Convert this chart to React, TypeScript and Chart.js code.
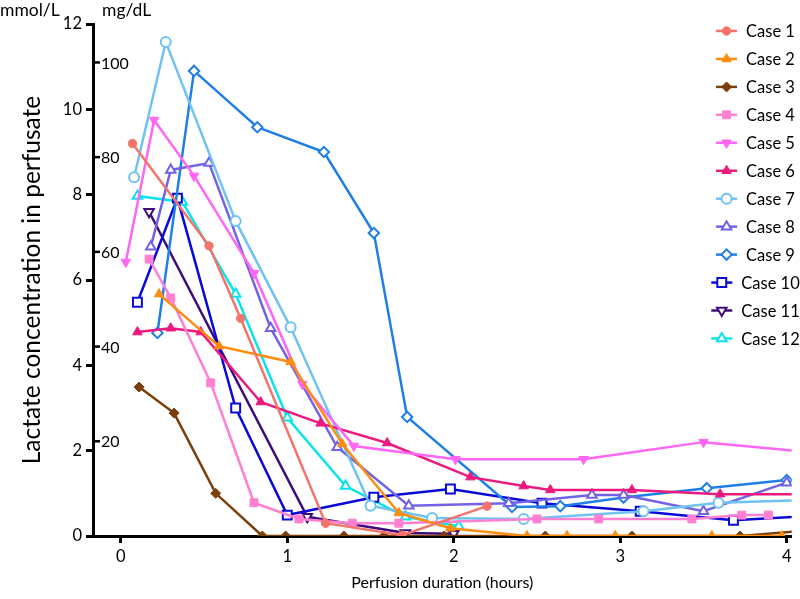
import React, { useEffect, useRef } from "react";
import { Chart, registerables } from "chart.js";
import { drawPoint } from "chart.js/helpers";

Chart.register(...registerables);

const FONT = "Lato, 'Open Sans', sans-serif";

const caseNames = ["Case 1", "Case 2", "Case 3", "Case 4", "Case 5", "Case 6", "Case 7", "Case 8", "Case 9", "Case 10", "Case 11", "Case 12"];

const case1Hours = [0.07, 0.53, 0.72, 1.23, 1.69, 2.2];
const case1Lactate = [9.2, 6.8, 5.1, 0.3, 0.02, 0.7];

const case2Hours = [0.23, 0.59, 1.02, 1.33, 1.67, 1.98, 2.44, 2.68, 2.97, 3.55, 3.97];
const case2Lactate = [5.67, 4.45, 4.08, 2.16, 0.54, 0.18, 0, 0, 0, 0, 0];

const case3Hours = [0.11, 0.32, 0.57, 0.85, 0.99, 1.34, 1.58, 1.94, 2.55, 3.07, 3.72, 4.1];
const case3Lactate = [3.49, 2.88, 1.0, 0, 0, 0, 0, 0, 0, 0, 0, 0.12];

const case4Hours = [0.17, 0.3, 0.54, 0.8, 1.07, 1.39, 1.67, 2.5, 2.87, 3.43, 3.73, 3.89];
const case4Lactate = [6.49, 5.58, 3.59, 0.78, 0.4, 0.3, 0.3, 0.4, 0.4, 0.4, 0.49, 0.49];

const case5Hours = [0.03, 0.2, 0.44, 0.8, 1.09, 1.4, 2.01, 2.78, 3.5, 4.1];
const case5Lactate = [6.42, 9.75, 8.44, 6.16, 3.56, 2.11, 1.8, 1.8, 2.2, 1.98];

const case6Hours = [0.1, 0.3, 0.48, 0.84, 1.2, 1.6, 2.1, 2.42, 2.58, 3.07, 3.6, 4.1];
const case6Lactate = [4.78, 4.87, 4.78, 3.14, 2.64, 2.18, 1.38, 1.17, 1.08, 1.08, 0.98, 0.98];

const case7Hours = [0.08, 0.27, 0.69, 1.02, 1.5, 1.87, 2.42, 3.14, 3.59, 4.1];
const case7Lactate = [8.41, 11.58, 7.38, 4.89, 0.71, 0.42, 0.4, 0.58, 0.78, 0.84];

const case8Hours = [0.18, 0.3, 0.53, 0.9, 1.3, 1.73, 2.33, 2.83, 3.02, 3.5, 4.0];
const case8Lactate = [6.78, 8.58, 8.74, 4.87, 2.08, 0.71, 0.77, 0.96, 0.96, 0.58, 1.25];

const case9Hours = [0.22, 0.44, 0.82, 1.22, 1.52, 1.72, 2.35, 2.64, 3.02, 3.52, 4.0];
const case9Lactate = [4.76, 10.9, 9.58, 9.0, 7.1, 2.79, 0.68, 0.7, 0.9, 1.12, 1.31];

const case10Hours = [0.1, 0.34, 0.69, 1.0, 1.52, 1.98, 2.53, 3.12, 3.68, 4.1];
const case10Lactate = [5.48, 7.92, 3.0, 0.49, 0.91, 1.1, 0.77, 0.58, 0.37, 0.46];

const case11Hours = [0.17, 1.12, 1.71, 2.0];
const case11Lactate = [7.6, 0.45, 0.07, 0.05];

const case12Hours = [0.1, 0.37, 0.69, 1.0, 1.35, 1.71, 2.03];
const case12Lactate = [7.97, 7.83, 5.67, 2.77, 1.17, 0.45, 0.23];

const caseHours = [case1Hours, case2Hours, case3Hours, case4Hours, case5Hours, case6Hours, case7Hours, case8Hours, case9Hours, case10Hours, case11Hours, case12Hours];
const caseLactate = [case1Lactate, case2Lactate, case3Lactate, case4Lactate, case5Lactate, case6Lactate, case7Lactate, case8Lactate, case9Lactate, case10Lactate, case11Lactate, case12Lactate];

const caseColors = ["#F4736A", "#FF8C0F", "#7A3F0C", "#FF80D2", "#FF66F4", "#EC1A7E", "#6FC3F3", "#7263E6", "#1F7FE6", "#0A0AD8", "#3E0C7C", "#0BE2EE"];
const caseMarkers = ["circle", "triangle", "rectRot", "rect", "triangle", "triangle", "circle", "triangle", "rectRot", "rect", "triangle", "triangle"];
const caseRotation = [0, 0, 0, 0, 180, 0, 0, 0, 0, 0, 180, 0];
const caseFilled = [true, true, true, true, true, true, false, false, false, false, false, false];
const caseRadius = [4.2, 5.5, 5, 5.6, 5.5, 5.5, 5, 5.5, 5.2, 6.3, 5.5, 5.5];

const mmolTicks = [0, 2, 4, 6, 8, 10, 12];
const mgdlTicks = [20, 40, 60, 80, 100];
const hourTicks = [0, 1, 2, 3, 4];
const MGDL_PER_MMOL = 9.01;

const overlayPlugin = {
  id: "overlay",
  afterDraw(chart: any) {
    const ctx = chart.ctx;
    const y = chart.scales.y;
    const left = chart.chartArea.left;
    ctx.save();
    ctx.fillStyle = "#000";
    ctx.strokeStyle = "#000";
    ctx.textBaseline = "middle";
    ctx.textAlign = "left";
    ctx.font = `16px ${FONT}`;
    // secondary mg/dL ticks
    ctx.lineWidth = 2.5;
    for (const v of mgdlTicks) {
      const py = y.getPixelForValue(v / MGDL_PER_MMOL);
      ctx.beginPath();
      ctx.moveTo(left, py);
      ctx.lineTo(left + 7, py);
      ctx.stroke();
      ctx.fillText(String(v), left + 8, py + 1);
    }
    ctx.font = `17.5px ${FONT}`;
    ctx.fillText("mmol/L", 0, 10);
    ctx.fillText("mg/dL", 102, 10);

    // legend
    ctx.font = `16.5px ${FONT}`;
    chart.data.datasets.forEach((ds: any, i: number) => {
      const rowY = 31 + i * 27.95;
      const w = ctx.measureText(ds.label).width;
      const tx = 770.5 - w / 2;
      ctx.fillStyle = "#000";
      ctx.fillText(ds.label, tx, rowY + 1);
      ctx.strokeStyle = ds.borderColor;
      ctx.lineWidth = 2.5;
      ctx.beginPath();
      ctx.moveTo(tx - 30, rowY);
      ctx.lineTo(tx - 9, rowY);
      ctx.stroke();
      ctx.fillStyle = ds.pointBackgroundColor;
      ctx.strokeStyle = ds.borderColor;
      ctx.lineWidth = ds.pointBorderWidth;
      drawPoint(ctx, { pointStyle: ds.pointStyle, rotation: ds.pointRotation, radius: ds.pointRadius, borderWidth: ds.pointBorderWidth }, tx - 19.5, rowY);
    });
    ctx.restore();
  },
};

export default function App() {
  const canvasRef = useRef<HTMLCanvasElement | null>(null);

  useEffect(() => {
    const canvas = canvasRef.current;
    if (!canvas) return;
    const datasets = caseNames.map((name, i) => ({
      label: name,
      data: caseHours[i].map((h, j) => ({ x: h, y: caseLactate[i][j] })),
      borderColor: caseColors[i],
      backgroundColor: caseColors[i],
      borderWidth: 2.5,
      pointStyle: caseMarkers[i],
      pointRotation: caseRotation[i],
      pointRadius: caseRadius[i],
      pointHoverRadius: caseRadius[i],
      pointBackgroundColor: caseFilled[i] ? caseColors[i] : "#ffffff",
      pointBorderColor: caseColors[i],
      pointBorderWidth: caseFilled[i] ? 1 : 2,
      tension: 0,
      fill: false,
    }));
    const chart = new Chart(canvas, {
      type: "line",
      data: { datasets },
      options: {
        animation: false,
        responsive: false,
        maintainAspectRatio: false,
        layout: { padding: { top: 24, right: 5, bottom: 0, left: 0 } },
        plugins: { legend: { display: false }, tooltip: { enabled: false } },
        scales: {
          x: {
            type: "linear",
            min: -0.167,
            max: 4.03,
            afterFit: (s: any) => { s.height = 63; },
            afterBuildTicks: (s: any) => { s.ticks = hourTicks.map((v) => ({ value: v })); },
            ticks: { color: "#000", font: { family: FONT, size: 16.5 }, padding: 4 },
            grid: { display: true, drawOnChartArea: false, drawTicks: true, tickLength: 7, tickWidth: 3, tickColor: "#000" },
            border: { display: true, color: "#000", width: 3 },
            title: { display: true, text: "Perfusion duration (hours)", color: "#000", font: { family: FONT, size: 16 }, padding: { top: 0, bottom: 7 } },
          },
          y: {
            type: "linear",
            min: 0,
            max: 12,
            afterFit: (s: any) => { s.width = 93; },
            afterBuildTicks: (s: any) => { s.ticks = mmolTicks.map((v) => ({ value: v })); },
            ticks: { color: "#000", font: { family: FONT, size: 16.5 }, padding: 4 },
            grid: { display: true, drawOnChartArea: false, drawTicks: true, tickLength: 7, tickWidth: 3, tickColor: "#000" },
            border: { display: true, color: "#000", width: 3 },
            title: { display: true, text: "Lactate concentration in perfusate", color: "#000", font: { family: FONT, size: 24.5 }, padding: { top: 17, bottom: 0 } },
          },
        },
      },
      plugins: [overlayPlugin],
    } as any);
    return () => chart.destroy();
  }, []);

  return (
    <div style={{ position: "absolute", left: 0, top: 0, width: 800, height: 599, background: "#fff" }}>
      <canvas ref={canvasRef} width={800} height={599} style={{ width: 800, height: 599, display: "block" }} />
    </div>
  );
}
